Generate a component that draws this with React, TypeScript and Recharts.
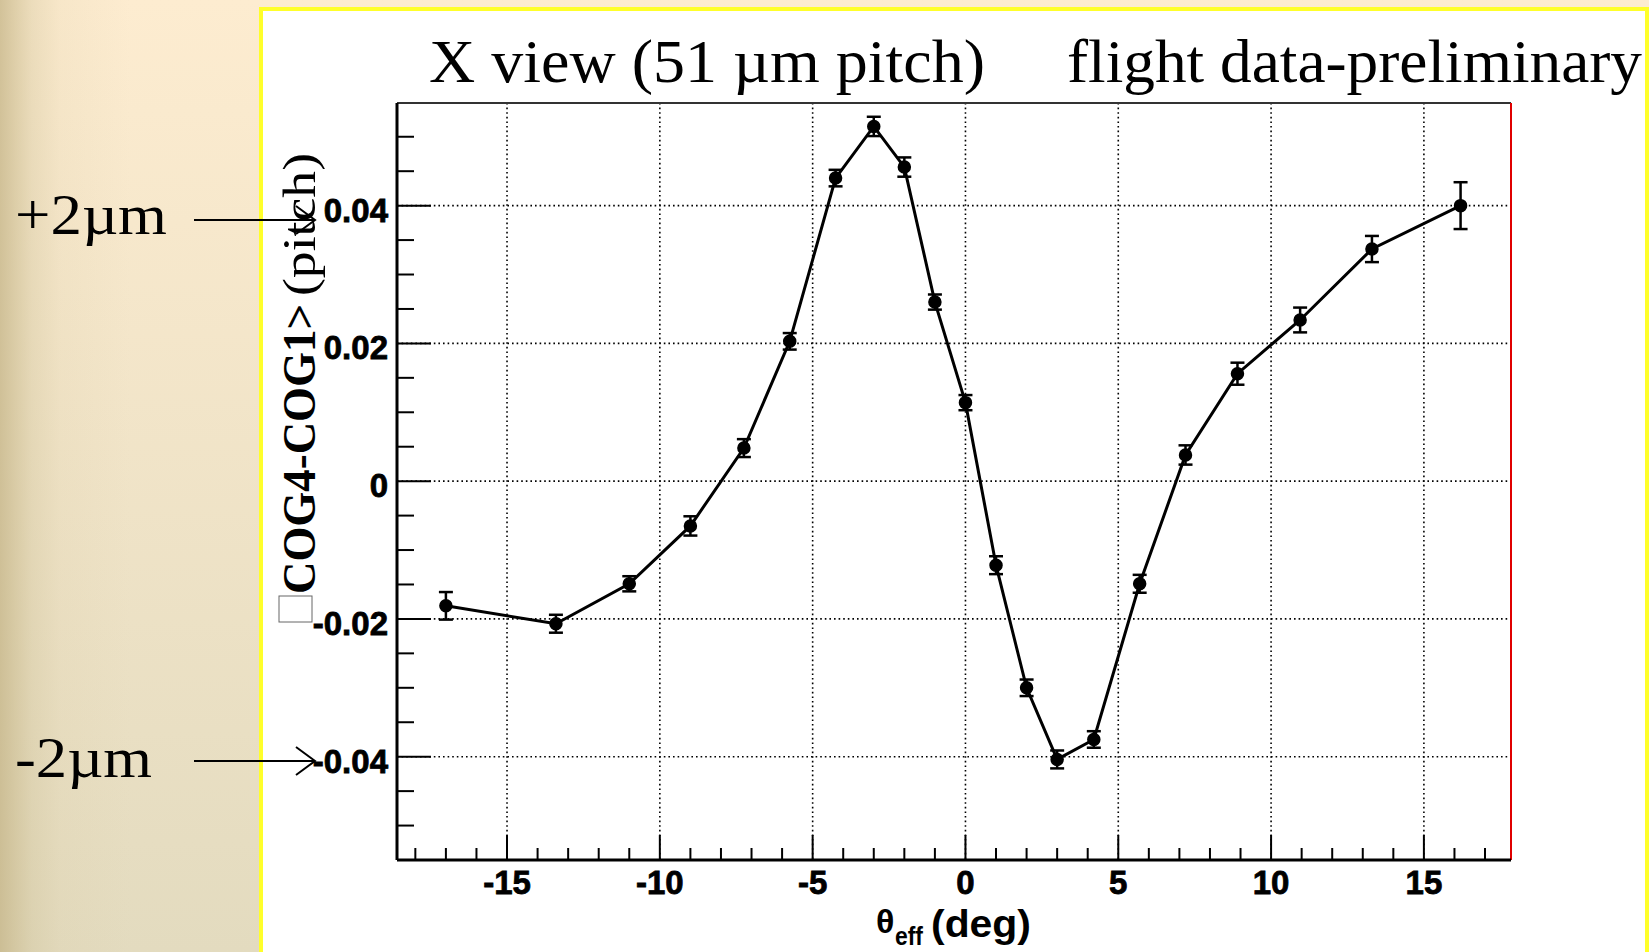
import React from "react";
import { ComposedChart, Line, XAxis, YAxis, CartesianGrid, ErrorBar, ReferenceLine } from "recharts";

// measured points: effective angle (deg) vs <COG4-COG1> (pitch)
const thetaEff = [-17, -13.4, -11, -9, -7.25, -5.75, -4.25, -3, -2, -1, 0, 1, 2, 3, 4.2, 5.7, 7.2, 8.9, 10.95, 13.3, 16.2];
const cogDiff = [-0.0181, -0.0207, -0.0149, -0.0065, 0.0048, 0.0203, 0.044, 0.0515, 0.0456, 0.026, 0.0114, -0.0122, -0.03, -0.0404, -0.0375, -0.0149, 0.0038, 0.0156, 0.0234, 0.0337, 0.04];
const cogErr = [0.002, 0.0013, 0.0011, 0.0014, 0.0013, 0.0012, 0.0012, 0.0014, 0.0014, 0.0011, 0.0011, 0.0013, 0.0012, 0.0013, 0.0012, 0.0013, 0.0014, 0.0016, 0.0018, 0.0019, 0.0034];

const xTicks = [-18, -17, -16, -15, -14, -13, -12, -11, -10, -9, -8, -7, -6, -5, -4, -3, -2, -1, 0, 1, 2, 3, 4, 5, 6, 7, 8, 9, 10, 11, 12, 13, 14, 15, 16, 17];
const xMajor = [-15, -10, -5, 0, 5, 10, 15];
const yTicks = [-0.05, -0.045, -0.04, -0.035, -0.03, -0.025, -0.02, -0.015, -0.01, -0.005, 0, 0.005, 0.01, 0.015, 0.02, 0.025, 0.03, 0.035, 0.04, 0.045, 0.05];
const yMajor = [-0.04, -0.02, 0, 0.02, 0.04];

const data = thetaEff.map((x, i) => ({ x, y: cogDiff[i], err: cogErr[i] }));

const X_DOMAIN = [-18.6, 17.85];
const Y_DOMAIN = [-0.055, 0.0549];
const SANS = "'Liberation Sans', Arial, sans-serif";
const SERIF = "'Liberation Serif', 'Times New Roman', serif";

function isMajor(list: number[], v: number) {
  return list.some((m) => Math.abs(m - v) < 1e-9);
}

function YTick(props: any) {
  const { x, y, payload } = props;
  const v = payload.value;
  const major = isMajor(yMajor, v);
  const ax = x + 9;
  return (
    <g>
      <line x1={ax} x2={ax + (major ? 34 : 17)} y1={y} y2={y} stroke="#000" strokeWidth={2} />
      {major && (
        <text x={x} y={y + 16} textAnchor="end" fontFamily={SANS} fontWeight="bold" fontSize={33} fill="#000" stroke="#000" strokeWidth={0.8}>
          {v === 0 ? "0" : v.toFixed(2)}
        </text>
      )}
    </g>
  );
}

function XTick(props: any) {
  const { x, y, payload } = props;
  const v = payload.value;
  const major = isMajor(xMajor, v);
  return (
    <g>
      <line x1={x} x2={x} y1={y} y2={y - (major ? 25 : 12)} stroke="#000" strokeWidth={2} />
      {major && (
        <text x={x} y={y + 34} textAnchor="middle" fontFamily={SANS} fontWeight="bold" fontSize={33} fill="#000" stroke="#000" strokeWidth={0.8}>
          {v}
        </text>
      )}
    </g>
  );
}

export default function App() {
  return (
    <div
      style={{
        position: "absolute",
        left: 0,
        top: 0,
        width: 1649,
        height: 952,
        overflow: "hidden",
        background:
          "linear-gradient(to right, rgba(196,180,135,0.75) 0px, rgba(200,185,140,0.55) 16px, rgba(205,192,150,0.35) 32px, rgba(215,200,160,0.15) 60px, rgba(255,255,255,0) 130px), linear-gradient(to bottom, #fdecd0, #e3dbbf)",
      }}
    >
      <div
        style={{
          position: "absolute",
          left: 259,
          top: 7,
          width: 1390,
          height: 960,
          boxSizing: "border-box",
          background: "#fff",
          borderLeft: "4px solid #ffff2a",
          borderTop: "4px solid #ffff2a",
          borderRight: "4px solid #ffff2a",
        }}
      />
      <div style={{ position: "absolute", left: 0, top: 0 }}>
        <ComposedChart width={1649} height={952} data={data} margin={{ top: 103, right: 138, bottom: 42, left: 287 }}>
          <CartesianGrid
            xAxisId="b"
            yAxisId="l"
            stroke="#000"
            strokeWidth={1.6}
            strokeDasharray="1.6 3"
            horizontalValues={yMajor}
            verticalValues={xMajor}
          />
          <XAxis
            xAxisId="b"
            type="number"
            dataKey="x"
            domain={X_DOMAIN}
            allowDataOverflow
            ticks={xTicks}
            interval={0}
            tick={<XTick />}
            tickSize={0}
            tickMargin={0}
            tickLine={false}
            axisLine={{ stroke: "#000", strokeWidth: 3 }}
            height={50}
          />
          <YAxis
            yAxisId="l"
            type="number"
            domain={Y_DOMAIN}
            allowDataOverflow
            ticks={yTicks}
            interval={0}
            tick={<YTick />}
            tickSize={0}
            tickMargin={9}
            tickLine={false}
            axisLine={{ stroke: "#000", strokeWidth: 3 }}
            width={110}
          />
          {/* frame: grey top edge, red right edge */}
          <ReferenceLine xAxisId="b" yAxisId="l" y={Y_DOMAIN[1]} stroke="#333" strokeWidth={2} ifOverflow="visible" />
          <ReferenceLine xAxisId="b" yAxisId="l" x={X_DOMAIN[1]} stroke="#e00000" strokeWidth={2} ifOverflow="visible" />
          <Line
            xAxisId="b"
            yAxisId="l"
            type="linear"
            dataKey="y"
            stroke="#000"
            strokeWidth={3}
            dot={{ r: 6, fill: "#000", stroke: "#000", strokeWidth: 1.5 }}
            isAnimationActive={false}
          >
            <ErrorBar dataKey="err" direction="y" width={7} stroke="#000" strokeWidth={2.5} isAnimationActive={false} />
          </Line>
        </ComposedChart>
      </div>
      <svg width={1649} height={952} style={{ position: "absolute", left: 0, top: 0, pointerEvents: "none" }}>
        {/* slide title */}
        <text x={429} y={82} fontFamily={SERIF} fontSize={62} fill="#000" textLength={556} lengthAdjust="spacingAndGlyphs">
          X view (51 µm pitch)
        </text>
        <text x={1067} y={82} fontFamily={SERIF} fontSize={62} fill="#000" textLength={575} lengthAdjust="spacingAndGlyphs">
          flight data-preliminary
        </text>

        {/* side annotations */}
        <text x={15} y={234} fontFamily={SERIF} fontSize={56} fill="#000" textLength={152} lengthAdjust="spacingAndGlyphs">
          +2µm
        </text>
        <text x={15} y={777} fontFamily={SERIF} fontSize={56} fill="#000" textLength={137} lengthAdjust="spacingAndGlyphs">
          -2µm
        </text>
        <line x1={194} y1={220} x2={314} y2={220} stroke="#000" strokeWidth={2} />
        <polyline points="296,206 315,220 296,234" fill="none" stroke="#000" strokeWidth={2} />
        <line x1={194} y1={761} x2={314} y2={761} stroke="#000" strokeWidth={2} />
        <polyline points="296,747 315,761 296,775" fill="none" stroke="#000" strokeWidth={2} />

        {/* y axis title */}
        <rect x={279} y={596} width={33} height={26} fill="none" stroke="#666" strokeWidth={1} />
        <text
          x={315}
          y={594}
          transform="rotate(-90 315 594)"
          fontFamily={SERIF}
          fontWeight="bold"
          fontSize={46}
          fill="#000"
          textLength={290}
          lengthAdjust="spacingAndGlyphs"
        >
          COG4-COG1&gt;
        </text>
        <text
          x={315}
          y={296}
          transform="rotate(-90 315 296)"
          fontFamily={SERIF}
          fontSize={47}
          fill="#000"
          textLength={143}
          lengthAdjust="spacingAndGlyphs"
        >
          (pitch)
        </text>

        {/* x axis title */}
        <text x={876} y={933} fontFamily={SANS} fontWeight="bold" fontSize={34} fill="#000">
          θ
        </text>
        <text x={895} y={945} fontFamily={SANS} fontWeight="bold" fontSize={26} fill="#000" textLength={28} lengthAdjust="spacingAndGlyphs">
          eff
        </text>
        <text x={931} y={937} fontFamily={SANS} fontWeight="bold" fontSize={38} fill="#000" textLength={100} lengthAdjust="spacingAndGlyphs">
          (deg)
        </text>
      </svg>
    </div>
  );
}
